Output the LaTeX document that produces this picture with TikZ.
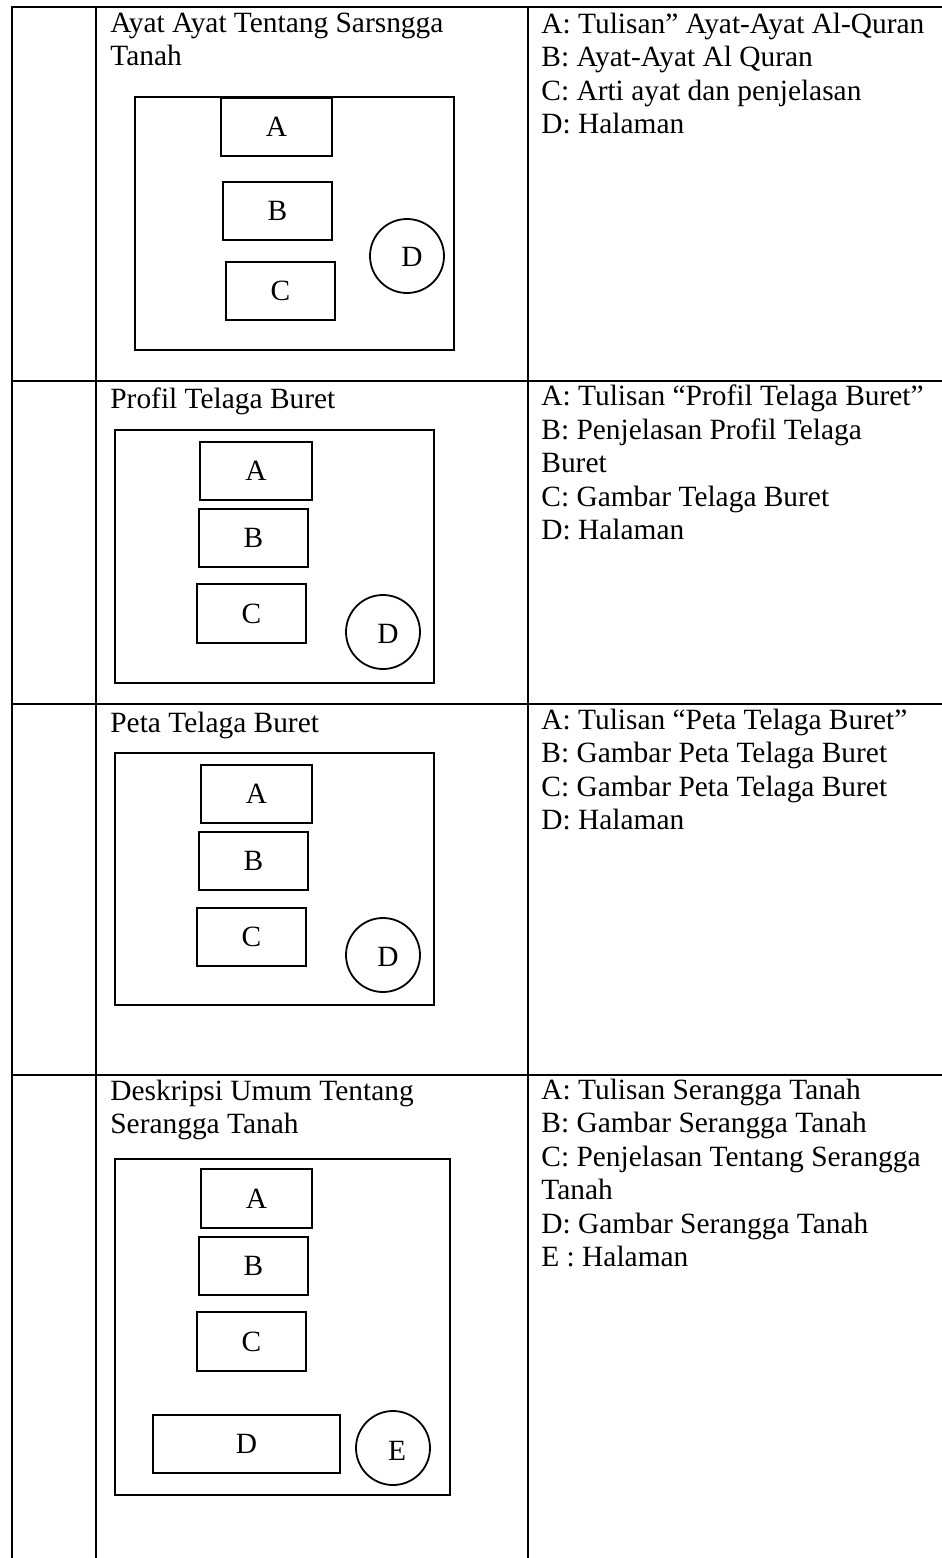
\documentclass[tikz,border=0pt]{standalone}
\usepackage{fontspec}
\setmainfont{Liberation Serif}
\usetikzlibrary{positioning}

\tikzset{
  grid/.style={line width=1pt},
  frame/.style={line width=0.9pt},
  % first baseline sits on the given point
  lbl/.style={inner sep=0pt, anchor=north west, align=left, yshift=11.725pt,
    execute at begin node=\strut},
}

\begin{document}
\begin{tikzpicture}[x=0.5pt,y=-0.5pt,font=\fontsize{14.7}{16.75}\selectfont]
\useasboundingbox (0,0) rectangle (942,1558);
% table lines
\draw[grid] (12,1558)--(12,7)--(942,7) (96,7)--(96,1558) (528,7)--(528,1558);
\foreach \y in {381,704,1075} \draw[grid] (12,\y)--(942,\y);

% row 1
\node[lbl] (t1) at (110,36) {Ayat Ayat Tentang Sarsngga\\Tanah};
\node[lbl] (k1) at (541,36) {A: Tulisan” Ayat-Ayat Al-Quran\\B: Ayat-Ayat Al Quran\\C: Arti ayat dan penjelasan\\D: Halaman};
\draw[frame] (135,97) rectangle (454,350);
\draw[frame] (221,98) rectangle (332,156) node[midway] (a1) {A};
\draw[frame] (223,182) rectangle (332,240) node[midway] (b1) {B};
\draw[frame] (226,262) rectangle (335,320) node[midway] (c1) {C};
\draw[frame] (407,256) circle (18.5pt);
\node (d1) at (412,257) {D};

% row 2
\node[lbl] (t2) at (110,408) {Profil Telaga Buret};
\node[lbl] (k2) at (541,408) {A: Tulisan “Profil Telaga Buret”\\B: Penjelasan Profil Telaga\\Buret\\C: Gambar Telaga Buret\\D: Halaman};
\draw[frame] (115,430) rectangle (434,683);
\draw[frame] (200,442) rectangle (312,500) node[midway] (a2) {A};
\draw[frame] (199,509) rectangle (308,567) node[midway] (b2) {B};
\draw[frame] (197,584) rectangle (306,643) node[midway] (c2) {C};
\draw[frame] (383,632) circle (18.5pt);
\node (d2) at (388,634) {D};

% row 3
\node[lbl] (t3) at (110,732) {Peta Telaga Buret};
\node[lbl] (k3) at (541,732) {A: Tulisan “Peta Telaga Buret”\\B: Gambar Peta Telaga Buret\\C: Gambar Peta Telaga Buret\\D: Halaman};
\draw[frame] (115,753) rectangle (434,1005);
\draw[frame] (201,765) rectangle (312,823) node[midway] (a3) {A};
\draw[frame] (199,832) rectangle (308,890) node[midway] (b3) {B};
\draw[frame] (197,908) rectangle (306,966) node[midway] (c3) {C};
\draw[frame] (383,955) circle (18.5pt);
\node (d3) at (388,957) {D};

% row 4
\node[lbl] (t4) at (110,1103) {Deskripsi Umum Tentang\\Serangga Tanah};
\node[lbl] (k4) at (541,1102) {A: Tulisan Serangga Tanah\\B: Gambar Serangga Tanah\\C: Penjelasan Tentang Serangga\\Tanah\\D: Gambar Serangga Tanah\\E : Halaman};
\draw[frame] (115,1159) rectangle (450,1495);
\draw[frame] (201,1169) rectangle (312,1228) node[midway] (a4) {A};
\draw[frame] (199,1237) rectangle (308,1295) node[midway] (b4) {B};
\draw[frame] (197,1312) rectangle (306,1371) node[midway] (c4) {C};
\draw[frame] (153,1415) rectangle (340,1473) node[midway] (d4) {D};
\draw[frame] (393,1448) circle (18.5pt);
\node (e4) at (397,1451) {E};
\end{tikzpicture}
\end{document}
